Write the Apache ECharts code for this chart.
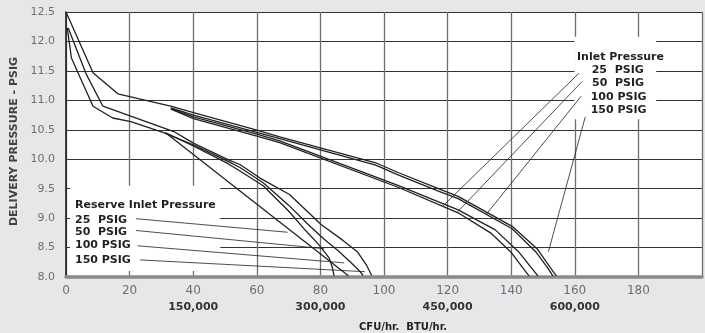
<!DOCTYPE html>
<html><head><meta charset="utf-8">
<script src="https://cdn.jsdelivr.net/npm/echarts@6/dist/echarts.min.js"></script>
<style>html,body{margin:0;padding:0;background:#e6e7e8}#c{width:705px;height:333px}</style>
</head><body><div id="c"></div>
<script>
// ---- data (CFH x, delivery pressure PSIG y) ----
const inlet25  = [[33,10.85],[40.1,10.69],[60.3,10.39],[67.2,10.28],[104.6,9.52],[123.3,9.09],[133.5,8.75],[139.8,8.43],[143.6,8.16],[145.6,8.02]];
const inlet50  = [[33,10.86],[40.1,10.72],[60.3,10.42],[67.2,10.31],[104.6,9.55],[123.3,9.14],[135,8.8],[142.3,8.43],[146.3,8.16],[148.4,8.02]];
const inlet100 = [[32.9,10.87],[40.1,10.75],[60.3,10.45],[67.2,10.35],[97.4,9.9],[104.6,9.73],[117.1,9.46],[123.3,9.33],[140.3,8.82],[147.7,8.43],[151.4,8.16],[153.1,8.02]];
const inlet150 = [[0,12.5],[8.5,11.47],[16.3,11.11],[32.9,10.9],[40.1,10.79],[60.3,10.49],[67.2,10.38],[97.4,9.94],[104.6,9.77],[117.1,9.5],[123.3,9.37],[140.3,8.86],[148.3,8.47],[152.3,8.16],[154.2,8.02]];
const reserve25  = [[31.3,10.45],[88.8,8.02]];
const reserve50  = [[31.3,10.45],[40.2,10.22],[51.1,9.92],[54.7,9.8],[62,9.55],[70,9.12],[75.5,8.78],[79.5,8.55],[82.8,8.32],[83.8,8.15],[84.3,8.02]];
const reserve100 = [[0.4,12.23],[1.7,11.72],[8.5,10.9],[14.7,10.7],[20.4,10.64],[30.7,10.45],[40.2,10.24],[51.1,9.96],[54.7,9.86],[62,9.6],[70,9.22],[76,8.9],[81,8.65],[85.5,8.45],[89.5,8.25],[92,8.12],[93.4,8.03]];
const reserve150 = [[0.7,12.23],[6.4,11.44],[11.6,10.9],[17.3,10.79],[21,10.72],[26.7,10.61],[33.9,10.47],[40.2,10.27],[51.1,9.99],[54.7,9.91],[61,9.68],[70.3,9.4],[80.2,8.89],[86.9,8.63],[91.6,8.43],[94.5,8.2],[96.1,8.03]];
// annotation geometry (data coords)
const reserveLeaders = [[[22.0,8.99],[69.7,8.76]],[[22.0,8.79],[81.2,8.48]],[[22.5,8.53],[87.5,8.24]],[[23.3,8.29],[94.0,8.09]]];
const inletLeaders = [[[161.3,11.46],[118.6,9.21]],[[162.3,11.32],[123.2,9.11]],[[162.0,11.07],[132.1,9.06]],[[163.3,10.72],[151.7,8.43]]];
const legendBoxes = [[[1.25,9.55],[48.5,8.10]],[[159.9,12.08],[185.6,10.68]]];
const btuAt = [40,80,120,160];
const btuLabels = ['150,000','300,000','450,000','600,000'];
const pressureLabels = ['25  PSIG','50  PSIG','100 PSIG','150 PSIG'];

const INK = '#231f20';
const chart = echarts.init(document.getElementById('c'), null, {renderer:'canvas'});
function curve(name, data){
  return {name, type:'line', data, symbol:'none', smooth:false, z:5,
    lineStyle:{color:INK, width:1.3}, silent:true, animation:false};
}
function leader(d){
  return {type:'line', data:d, symbol:'none', z:5, lineStyle:{color:INK, width:0.8}, silent:true, animation:false};
}
const boxSeries = {
  type:'line', data:[], z:4, silent:true, animation:false, symbol:'none',
  markArea:{silent:true, animation:false, itemStyle:{color:'#ffffff', opacity:1, borderWidth:0},
    label:{show:false},
    data: legendBoxes.map(b => [{coord:b[0]},{coord:b[1]}])}
};
const series = [boxSeries,
  curve('Inlet 25 PSIG', inlet25), curve('Inlet 50 PSIG', inlet50),
  curve('Inlet 100 PSIG', inlet100), curve('Inlet 150 PSIG', inlet150),
  curve('Reserve 25 PSIG', reserve25), curve('Reserve 50 PSIG', reserve50),
  curve('Reserve 100 PSIG', reserve100), curve('Reserve 150 PSIG', reserve150)
].concat(reserveLeaders.map(leader), inletLeaders.map(leader));

const bold = 'bold 11px "DejaVu Sans"';
function txt(text, x, y, align, font){
  return {type:'text', x, y, z:10, style:{text, font: font||bold, fill:INK,
    align: align||'left', verticalAlign:'middle', textAlign: align||'left', textVerticalAlign:'middle'}};
}
const elements = [
  txt('Reserve Inlet Pressure', 75, 205.3),
  txt(pressureLabels[0], 75, 220), txt(pressureLabels[1], 75, 232),
  txt(pressureLabels[2], 75, 245.5), txt(pressureLabels[3], 75, 259.7),
  txt('Inlet Pressure', 620.5, 57.5, 'center'),
  txt(pressureLabels[0], 591.7, 70.5), txt(pressureLabels[1], 592, 83.5),
  txt(pressureLabels[2], 590.7, 97.3), txt(pressureLabels[3], 590.7, 110.3),
  txt('CFU/hr.  BTU/hr.', 403, 327.5, 'center', 'bold 10px "DejaVu Sans"'),
  {type:'text', x:14, y:141.5, z:10, rotation:Math.PI/2,
    style:{text:'DELIVERY PRESSURE - PSIG', font:'bold 11px "DejaVu Sans"', fill:'#414042',
      align:'center', verticalAlign:'middle', textAlign:'center', textVerticalAlign:'middle'}}
];

chart.setOption({
  animation:false,
  backgroundColor:'#e6e7e8',
  grid:{left:66, right:0, top:12, bottom:56, show:true, backgroundColor:'#fff', borderWidth:0},
  xAxis:[{
    type:'value', min:0, max:200, interval:20,
    axisLine:{show:true, lineStyle:{color:'#8a8a8a', width:3.5}},
    axisTick:{show:false},
    axisLabel:{color:'#6d6e71', fontSize:12, fontFamily:'DejaVu Sans', margin:8,
      formatter:v => v >= 200 ? '' : String(v)},
    splitLine:{show:true, lineStyle:{color:'#6d6e71', width:1.3}}
  },{
    type:'value', min:0, max:200, interval:40, position:'bottom', offset:17,
    axisLine:{show:false}, axisTick:{show:false}, splitLine:{show:false},
    axisLabel:{color:'#333', fontSize:11, fontWeight:'bold', fontFamily:'DejaVu Sans', margin:8,
      formatter:v => { const i = btuAt.indexOf(v); return i >= 0 ? btuLabels[i] : ''; }}
  }],
  yAxis:{
    type:'value', min:8, max:12.5, interval:0.5,
    axisLine:{show:true, onZero:false, lineStyle:{color:INK, width:1.6}},
    axisTick:{show:false},
    axisLabel:{color:'#6d6e71', fontSize:11, fontFamily:'DejaVu Sans', margin:11,
      formatter:v => v.toFixed(1)},
    splitLine:{show:true, lineStyle:{color:'#333', width:1.2}}
  },
  series,
  graphic:{elements}
});
</script></body></html>
